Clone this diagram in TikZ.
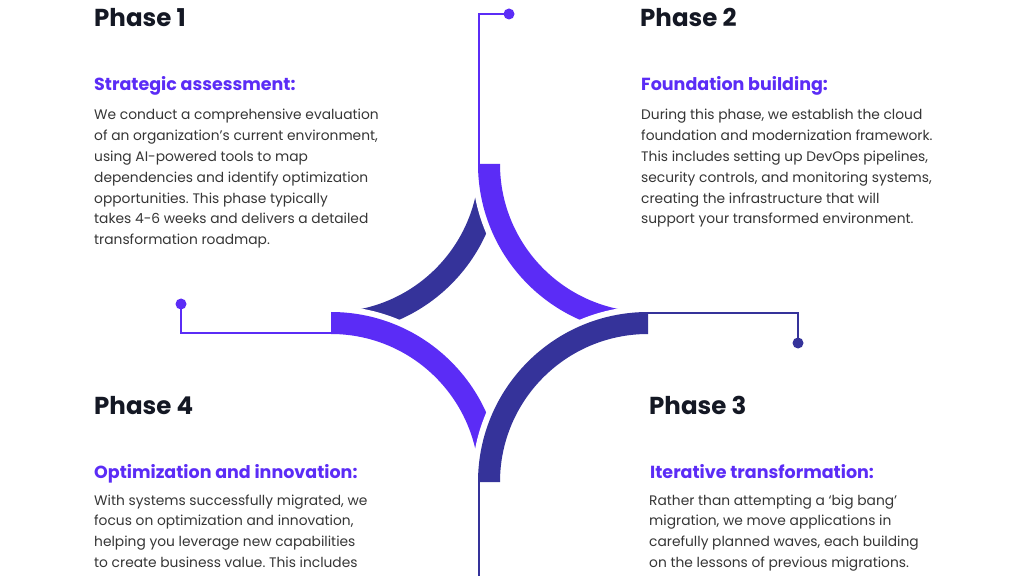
\documentclass[tikz,border=0pt]{standalone}
\usepackage{fontspec}
\newfontfamily\pop{Poppins}
\frenchspacing
\definecolor{violetA}{HTML}{5B2CF6}
\definecolor{navyA}{HTML}{35339A}
\definecolor{inkA}{HTML}{141824}
\definecolor{bodyA}{HTML}{363636}
\begin{document}
\begin{tikzpicture}[x=1pt,y=1pt,
  gapfill/.style={preaction={draw=white,line width=12pt,line join=round}},
  phasehead/.style={inner sep=0pt,anchor=base west,text=inkA,font=\pop\bfseries\fontsize{24.5}{28}\selectfont},
  subhead/.style={inner sep=0pt,anchor=base west,text=violetA,font=\pop\bfseries\fontsize{17.5}{20}\selectfont},
  bodytext/.style={inner sep=0pt,anchor=base west,text=bodyA,font=\pop\frenchspacing\fontsize{13.8}{20.8}\selectfont},
  wire/.style={line width=2pt},
  dotA/.style={circle,fill,inner sep=0pt,minimum size=11pt}]
\useasboundingbox (0,0) rectangle (1024,576);
\fill[white] (0,0) rectangle (1024,576);

% star arcs
% top-left (navy), drawn first
\fill[navyA] (331,242) arc[start angle=270,end angle=360,radius=170] -- (479,412)
  arc[start angle=360,end angle=270,radius=148] -- cycle;
% top-right (violet)
\fill[violetA,gapfill] (478,412) arc[start angle=180,end angle=270,radius=170] -- (648,264)
  arc[start angle=270,end angle=180,radius=148] -- cycle;
% bottom-left (violet)
\fill[violetA,gapfill] (501,94) arc[start angle=0,end angle=90,radius=170] -- (331,242)
  arc[start angle=90,end angle=0,radius=148] -- cycle;
% bottom-right (navy)
\fill[navyA,gapfill] (648,264) arc[start angle=90,end angle=180,radius=170] -- (500,94)
  arc[start angle=180,end angle=90,radius=148] -- cycle;

% connector ends
\coordinate (endTop) at (479,412);
\coordinate (endLeft) at (331,243);
\coordinate (endRight) at (648,263);
\coordinate (endBottom) at (479,94);
\coordinate (edgeBottom) at (479,0);
\node[dotA,violetA] (dotTop) at (509,562) {};
\node[dotA,violetA] (dotLeft) at (181,272) {};
\node[dotA,navyA] (dotRight) at (798,233) {};
\draw[wire,violetA] (dotTop.center) -| (endTop);
\draw[wire,violetA] (dotLeft.center) |- (endLeft);
\draw[wire,navyA] (endRight) -| (dotRight.center);
\draw[wire,navyA] (endBottom) -- (edgeBottom);

% Phase 1
\node[phasehead] (h1) at (94,549) {Phase 1};
\node[subhead] (s1) at (94,485) {Strategic assessment:};
\node[bodytext] (b1) at (94,456) {\parbox[t]{320pt}{\raggedright
We conduct a comprehensive evaluation\\
of an organization’s current environment,\\
using AI-powered tools to map\\
dependencies and identify optimization\\
opportunities. This phase typically\\
takes 4-6 weeks and delivers a detailed\\
transformation roadmap.}};

% Phase 2
\node[phasehead] (h2) at (640,549) {Phase 2};
\node[subhead] (s2) at (641,485) {Foundation building:};
\node[bodytext] (b2) at (641,456) {\parbox[t]{340pt}{\raggedright
During this phase, we establish the cloud\\
foundation and modernization framework.\\
This includes setting up DevOps pipelines,\\
security controls, and monitoring systems,\\
creating the infrastructure that will\\
support your transformed environment.}};

% Phase 4
\node[phasehead] (h4) at (94,162) {Phase 4};
\node[subhead] (s4) at (94,98) {Optimization and innovation:};
\node[bodytext] (b4) at (94,71) {\parbox[t]{320pt}{\raggedright
With systems successfully migrated, we\\
focus on optimization and innovation,\\
helping you leverage new capabilities\\
to create business value. This includes}};

% Phase 3
\node[phasehead] (h3) at (649,162) {Phase 3};
\node[subhead] (s3) at (650,98) {Iterative transformation:};
\node[bodytext] (b3) at (649,71) {\parbox[t]{320pt}{\raggedright
Rather than attempting a ‘big bang’\\
migration, we move applications in\\
carefully planned waves, each building\\
on the lessons of previous migrations.}};
\end{tikzpicture}
\end{document}
